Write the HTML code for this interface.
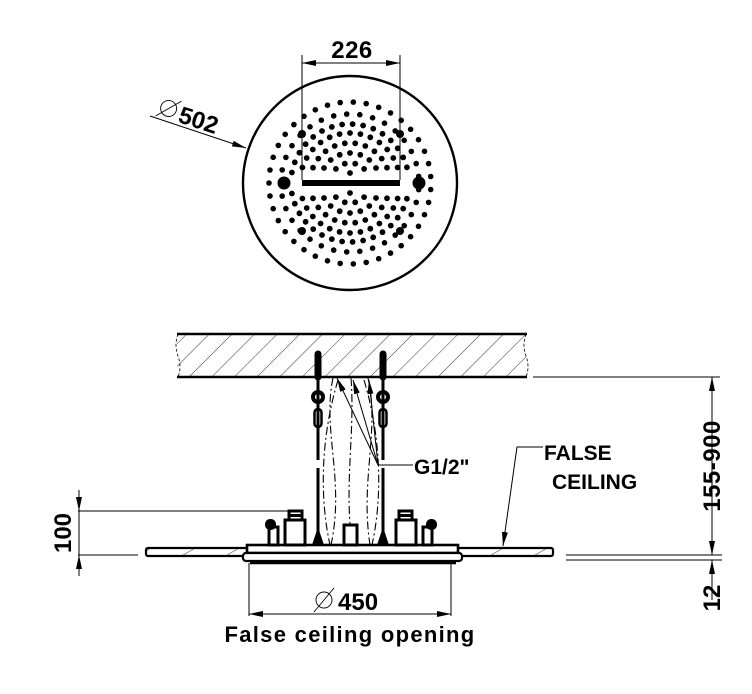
<!DOCTYPE html>
<html><head><meta charset="utf-8"><style>
html,body{margin:0;padding:0;background:#fff;}
svg{display:block;font-family:"Liberation Sans",Arial,sans-serif;}
text{font-weight:bold;}
</style></head><body>
<svg id="s" width="752" height="694" viewBox="0 0 752 694" xmlns="http://www.w3.org/2000/svg">
<defs>
<pattern id="h" patternUnits="userSpaceOnUse" width="16" height="16" patternTransform="rotate(45)">
<line x1="0" y1="0" x2="0" y2="16" stroke="#000" stroke-width="0.8"/>
</pattern>
<pattern id="h2" patternUnits="userSpaceOnUse" width="22" height="22" patternTransform="rotate(60)">
<line x1="0" y1="0" x2="0" y2="22" stroke="#000" stroke-width="0.8"/>
</pattern>
<marker id="a" markerWidth="14" markerHeight="8" refX="14" refY="4" orient="auto" markerUnits="userSpaceOnUse">
<path d="M0,1 L14,4 L0,7 Z" fill="#000"/></marker>
<marker id="as" markerWidth="14" markerHeight="8" refX="0" refY="4" orient="auto" markerUnits="userSpaceOnUse">
<path d="M14,1 L0,4 L14,7 Z" fill="#000"/></marker>
</defs>

<circle cx="350" cy="183" r="107" fill="none" stroke="#000" stroke-width="2.4"/>
<g id="dots" fill="#000"></g>
<rect x="302" y="180" width="98" height="6" fill="#000"/>
<circle cx="284" cy="183" r="6.5" fill="#000"/>
<circle cx="419" cy="183" r="6.5" fill="#000"/>
<line x1="302" y1="55" x2="302" y2="180" stroke="#000" stroke-width="1"/>
<line x1="400" y1="55" x2="400" y2="180" stroke="#000" stroke-width="1"/>
<line x1="302" y1="63" x2="400" y2="63" stroke="#000" stroke-width="1" marker-start="url(#as)" marker-end="url(#a)"/>
<text x="352" y="58" font-size="24" text-anchor="middle" letter-spacing="0.5">226</text>
<line x1="150" y1="116" x2="246" y2="148" stroke="#000" stroke-width="1" marker-end="url(#a)"/>
<g transform="translate(150,114) rotate(18)">
<circle cx="16" cy="-11" r="8" fill="none" stroke="#000" stroke-width="0.9"/>
<line x1="6" y1="0" x2="26" y2="-22" stroke="#000" stroke-width="0.9"/>
<text x="28" y="-1" font-size="24">502</text>
</g>

<rect x="177" y="334" width="349" height="43" fill="url(#h)"/>
<line x1="177" y1="334" x2="527" y2="334" stroke="#000" stroke-width="2.5"/>
<line x1="177" y1="377" x2="527" y2="377" stroke="#000" stroke-width="2.5"/>
<path d="M178,334 q-4,11 0,22 q4,11 0,21 M526,334 q-4,11 0,22 q4,11 0,21" fill="none" stroke="#000" stroke-width="0.8" stroke-dasharray="3,2"/>

<line x1="533" y1="377" x2="720" y2="377" stroke="#000" stroke-width="1"/>
<line x1="566" y1="555" x2="722" y2="555" stroke="#000" stroke-width="1"/>
<line x1="566" y1="560" x2="722" y2="560" stroke="#000" stroke-width="1"/>
<line x1="712" y1="377" x2="712" y2="555" stroke="#000" stroke-width="1" marker-start="url(#as)" marker-end="url(#a)"/>
<line x1="712" y1="600" x2="712" y2="560" stroke="#000" stroke-width="1" marker-end="url(#a)"/>
<text transform="translate(720,466) rotate(-90)" font-size="24" text-anchor="middle" letter-spacing="0.5">155-900</text>
<text transform="translate(720,598) rotate(-90)" font-size="24" text-anchor="middle">12</text>

<text x="544" y="460" font-size="21">FALSE</text>
<text x="552" y="489" font-size="21">CEILING</text>
<polyline points="543,447 517,447 503,546" fill="none" stroke="#000" stroke-width="1" marker-end="url(#a)"/>

<rect x="146" y="548" width="407" height="8" fill="url(#h2)" stroke="#000" stroke-width="2.2" rx="2"/>
<rect x="247" y="545" width="211" height="8" fill="#fff" stroke="#000" stroke-width="2.6"/>
<rect x="243" y="553" width="219" height="8" fill="#fff" stroke="#000" stroke-width="2.2" rx="3"/>
<line x1="250" y1="563" x2="456" y2="563" stroke="#000" stroke-width="2.4"/>

<g stroke="#000" fill="none">
<line x1="318" y1="354" x2="318" y2="377" stroke-width="7" stroke-linecap="round"/>
<line x1="383" y1="354" x2="383" y2="377" stroke-width="7" stroke-linecap="round"/>
<line x1="318" y1="377" x2="318" y2="460" stroke-width="3"/>
<line x1="383" y1="377" x2="383" y2="460" stroke-width="3"/>
<line x1="318" y1="468" x2="318" y2="535" stroke-width="3"/>
<line x1="383" y1="468" x2="383" y2="535" stroke-width="3"/>
<circle cx="318" cy="397" r="5" stroke-width="4"/>
<circle cx="383" cy="397" r="5" stroke-width="4"/>
<rect x="314.5" y="409" width="7" height="18" rx="3.5" stroke-width="2.5"/>
<rect x="379.5" y="409" width="7" height="18" rx="3.5" stroke-width="2.5"/>
<path d="M333,378 C322,430 345,480 331,545" stroke-width="1.1" stroke-dasharray="8,3,2,3"/>
<path d="M351,378 C355,430 345,480 351,535" stroke-width="1.1" stroke-dasharray="8,3,2,3"/>
<path d="M368,378 C380,430 360,480 370,545" stroke-width="1.1" stroke-dasharray="8,3,2,3"/>
<path d="M338,380 C320,440 320,500 330,545" stroke-width="1.1" stroke-dasharray="8,3,2,3"/>
<path d="M364,380 C382,440 382,500 372,545" stroke-width="1.1" stroke-dasharray="8,3,2,3"/>
</g>
<g stroke="#000" stroke-width="1" fill="none">
<line x1="413" y1="465" x2="378" y2="465"/>
<line x1="378" y1="465" x2="337" y2="378" marker-end="url(#a)"/>
<line x1="378" y1="465" x2="353" y2="380" marker-end="url(#a)"/>
<line x1="378" y1="465" x2="369" y2="380" marker-end="url(#a)"/>
</g>
<text x="414" y="474" font-size="21">G1/2"</text>

<g fill="#fff" stroke="#000" stroke-width="3">
<rect x="289" y="511" width="13" height="9"/>
<rect x="399" y="511" width="13" height="9"/>
<rect x="285" y="520" width="20" height="25"/>
<rect x="396" y="520" width="20" height="25"/>
<rect x="344" y="525" width="13" height="20"/>
<rect x="269" y="527" width="9" height="18"/>
<rect x="423" y="527" width="9" height="18"/>
</g>
<g fill="#000">
<rect x="265" y="519" width="11" height="11" rx="5"/>
<rect x="426" y="519" width="11" height="11" rx="5"/>
<rect x="289" y="514" width="13" height="3"/>
<rect x="399" y="514" width="13" height="3"/>
</g>
<path d="M312,545 L318,527 L324,545 Z M377,545 L383,527 L389,545 Z" fill="#000"/>

<line x1="78" y1="511" x2="293" y2="511" stroke="#000" stroke-width="1"/>
<line x1="78" y1="555" x2="138" y2="555" stroke="#000" stroke-width="1"/>
<line x1="79" y1="490" x2="79" y2="511" stroke="#000" stroke-width="1" marker-end="url(#a)"/>
<line x1="79" y1="576" x2="79" y2="555" stroke="#000" stroke-width="1" marker-end="url(#a)"/>
<line x1="79" y1="511" x2="79" y2="555" stroke="#000" stroke-width="1"/>
<text transform="translate(71,533) rotate(-90)" font-size="24" text-anchor="middle">100</text>

<line x1="249" y1="563" x2="249" y2="616" stroke="#000" stroke-width="1"/>
<line x1="451" y1="563" x2="451" y2="616" stroke="#000" stroke-width="1"/>
<line x1="249" y1="614" x2="451" y2="614" stroke="#000" stroke-width="1" marker-start="url(#as)" marker-end="url(#a)"/>
<circle cx="324" cy="600" r="8" fill="none" stroke="#000" stroke-width="0.9"/>
<line x1="314" y1="612" x2="334" y2="588" stroke="#000" stroke-width="0.9"/>
<text x="338" y="610" font-size="24">450</text>
<text x="350" y="642" font-size="22" text-anchor="middle" letter-spacing="1.3">False ceiling opening</text>
</svg>
<script>
(function(){
var g=document.getElementById('dots'),ns='http://www.w3.org/2000/svg',cx=350,cy=183;
function dot(x,y,r){var c=document.createElementNS(ns,'circle');c.setAttribute('cx',x.toFixed(1));c.setAttribute('cy',y.toFixed(1));c.setAttribute('r',r);g.appendChild(c);}
var rings=[[10,2.9],[20,2.9],[30,2.9],[40,2.9],[50,2.9],[59,2.9],[69,2.8],[81,2.8]];
rings.forEach(function(rr,i){
 var R=rr[0],sp=(i<6)?10.5:13,n=Math.max(6,Math.round(2*Math.PI*R/sp));
 for(var k=0;k<n;k++){var a=(k+0.5)/n*2*Math.PI;var x=cx+R*Math.cos(a),y=cy+R*Math.sin(a);
  if(Math.abs(y-cy)<6.5 && Math.abs(x-cx)<76) continue;
  dot(x,y,rr[1]);}
});
[[302,134],[400,134],[302,231],[400,231]].forEach(function(p){dot(p[0],p[1],4);});
})();
</script>
</body></html>
